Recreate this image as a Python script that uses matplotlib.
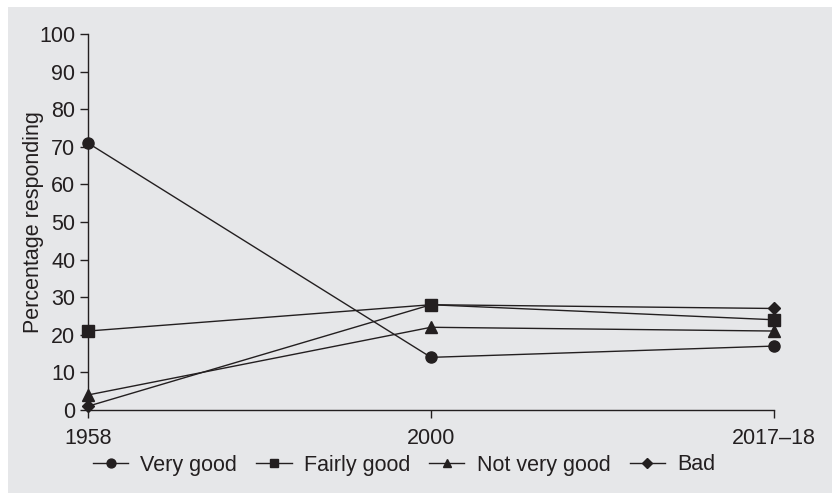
import matplotlib
matplotlib.use("Agg")
import matplotlib.pyplot as plt
from matplotlib.patches import Rectangle

plt.rcParams["font.family"] = ["Liberation Sans", "DejaVu Sans"]

periods = ["1958", "2000", "2017\u201318"]
very_good = [71, 14, 17]
fairly_good = [21, 28, 24]
not_very_good = [4, 22, 21]
bad = [1, 28, 27]

series = [
    ("Very good", very_good, "o", 8.0),
    ("Fairly good", fairly_good, "s", 8.0),
    ("Not very good", not_very_good, "^", 8.0),
    ("Bad", bad, "D", 6.0),
]

BG = "#e6e7e9"
INK = "#231f20"
FS = 15.5

fig = plt.figure(figsize=(8.32, 4.93), dpi=100, facecolor="white")
fig.patches.append(Rectangle((8 / 832, 0), 1, 1 - 7 / 493, transform=fig.transFigure,
                             facecolor=BG, edgecolor="none", zorder=-10))
ax = fig.add_axes([88 / 832, 1 - 410 / 493, (774 - 88) / 832, (410 - 34) / 493])
ax.set_facecolor(BG)

x = list(range(len(periods)))
for label, vals, mk, ms in series:
    ax.plot(x, vals, color=INK, lw=1.0, marker=mk, markersize=ms,
            markerfacecolor=INK, markeredgecolor=INK, label=label, clip_on=False, zorder=3)

ax.set_xlim(0, len(periods) - 1)
ax.set_ylim(0, 100)
ax.set_yticks(range(0, 101, 10))
ax.set_xticks(x)
ax.set_xticklabels(periods)
for s in ("top", "right"):
    ax.spines[s].set_visible(False)
for s in ("left", "bottom"):
    ax.spines[s].set_color(INK)
    ax.spines[s].set_linewidth(1.0)
ax.tick_params(direction="out", length=6, width=1.0, color=INK, labelcolor=INK,
               labelsize=FS, pad=3)
ax.tick_params(axis="x", pad=7)
ax.set_ylabel("Percentage responding", fontsize=FS, color=INK, labelpad=-3)

fig.legend(*ax.get_legend_handles_labels(), loc="center",
           bbox_to_anchor=(404 / 832, 1 - 465 / 493), ncol=4, frameon=False,
           fontsize=FS, handlelength=1.63, handletextpad=0.56, columnspacing=0.9,
           markerscale=0.8, labelcolor=INK)

fig.savefig("out.png", dpi=100, facecolor=fig.get_facecolor())
